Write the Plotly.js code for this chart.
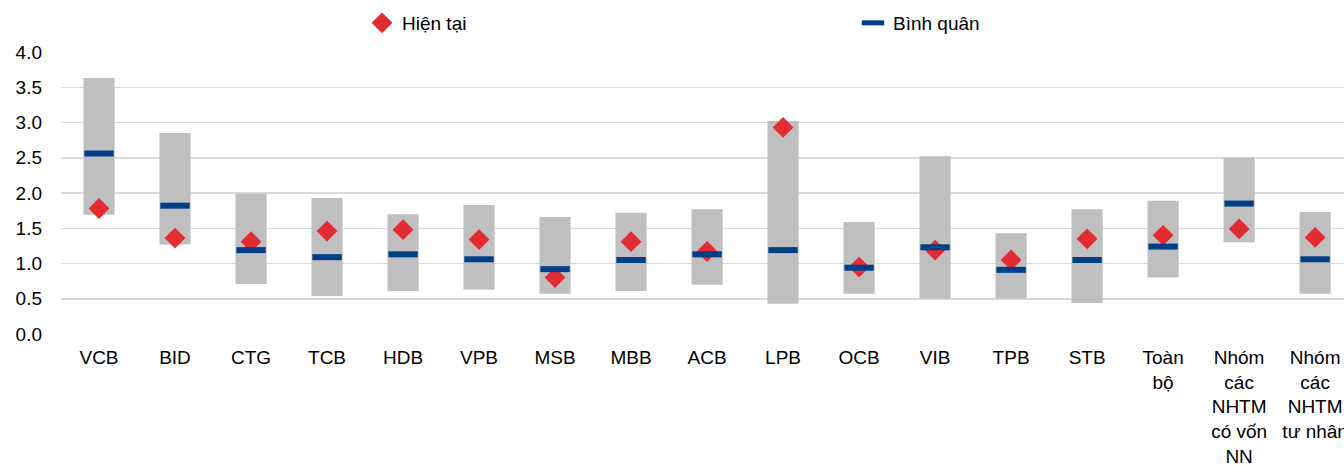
<!DOCTYPE html>
<html>
<head>
<meta charset="utf-8">
<script src="https://cdn.plot.ly/plotly-3.0.1.min.js"></script>
<style>html,body{margin:0;padding:0;background:#fff;}#chart{width:1344px;height:465px;}</style>
</head>
<body>
<div id="chart"></div>
<script>
const categories = ["VCB","BID","CTG","TCB","HDB","VPB","MSB","MBB","ACB","LPB","OCB","VIB","TPB","STB","Toàn<br>bộ","Nhóm<br>các<br>NHTM<br>có vốn<br>NN","Nhóm<br>các<br>NHTM<br>tư nhân"];
const rangeMin = [1.69,1.27,0.71,0.54,0.61,0.63,0.57,0.61,0.70,0.43,0.57,0.50,0.50,0.44,0.80,1.30,0.57];
const rangeMax = [3.63,2.85,1.99,1.93,1.70,1.83,1.66,1.72,1.77,3.02,1.59,2.52,1.43,1.77,1.89,2.50,1.73];
const current  = [1.78,1.36,1.31,1.46,1.48,1.34,0.80,1.31,1.17,2.93,0.95,1.19,1.05,1.35,1.40,1.49,1.37];
const average  = [2.56,1.82,1.19,1.09,1.13,1.06,0.92,1.05,1.13,1.19,0.94,1.23,0.91,1.05,1.24,1.85,1.06];
const yTicks = [0,0.5,1,1.5,2,2.5,3,3.5,4];

const font = {family:"Liberation Sans, Arial, sans-serif", size:19, color:"#000"};

const traces = [
  {type:"bar", x:categories, base:rangeMin, y:rangeMax.map((v,i)=>v-rangeMin[i]),
   marker:{color:"#BFBFBF"}, width:0.41, showlegend:false, hoverinfo:"skip"},
  {type:"scatter", mode:"markers", name:"Hiện tại", x:categories, y:current, legend:"legend",
   marker:{symbol:"diamond", size:16, color:"#E32B34"}},
  {type:"scatter", mode:"markers", name:"Bình quân", x:categories, y:average, legend:"legend2",
   marker:{symbol:"line-ew", size:21, line:{width:6, color:"#003F87"}, color:"#003F87"}}
];

const legendBase = {orientation:"h", y:1.0, yanchor:"top", font:font, bgcolor:"rgba(0,0,0,0)", xanchor:"left"};

const layout = {
  width:1344, height:465,
  margin:{l:61, r:0, t:4, b:131},
  paper_bgcolor:"#fff", plot_bgcolor:"#fff",
  font:font,
  showlegend:true,
  legend:Object.assign({}, legendBase, {x:(362-61)/1283}),
  legend2:Object.assign({}, legendBase, {x:(853-61)/1283}),
  xaxis:{type:"category", range:[-0.5,16.38], showgrid:false, zeroline:false,
         showline:false, ticks:"", tickfont:font, ticklabelstandoff:10, automargin:false},
  yaxis:{range:[0,4], domain:[0, 282/330], tickvals:yTicks, tickformat:".1f", showgrid:true,
         gridcolor:"#D9D9D9", gridwidth:1.5, zeroline:false, showline:false,
         ticks:"", tickfont:font, ticklabelstandoff:18, automargin:false},
  bargap:0.59
};

Plotly.newPlot("chart", traces, layout, {displayModeBar:false, staticPlot:true});
</script>
</body>
</html>
